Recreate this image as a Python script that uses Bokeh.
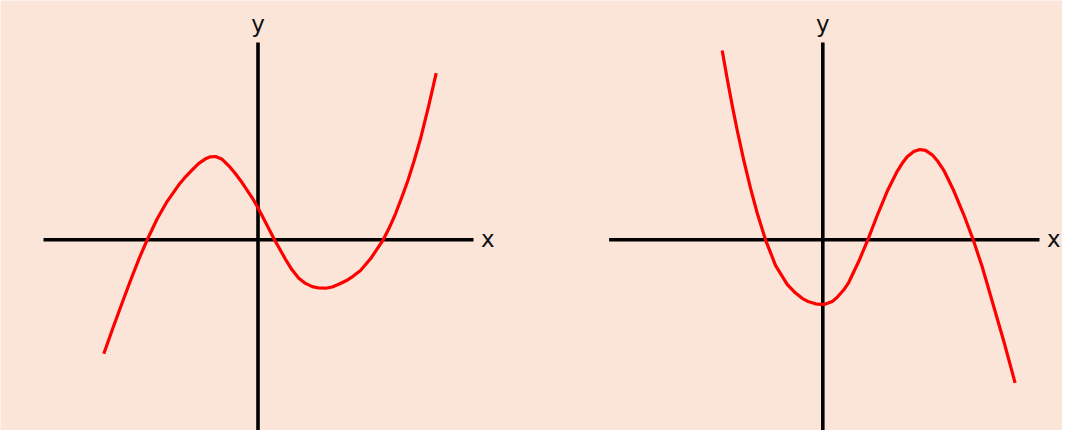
from bokeh.plotting import figure
from bokeh.models import Range1d, ColumnDataSource
from bokeh.transform import dodge
from bokeh.embed import file_html
from bokeh.resources import INLINE
from bokeh.core.properties import value

# ---- data (x to the right of each panel's y-axis, y above its x-axis) ----
left_x = [-154.2, -145.0, -136.0, -127.0, -119.0, -110.8, -100.8, -90.8, -79.2, -72.0,
          -65.8, -59.2, -52.5, -47.5, -42.5, -35.8, -29.2, -22.5, -15.8, -5.8,
          0.0, 8.0, 16.5, 27.5, 34.0, 40.8, 47.5, 54.2, 60.8, 67.5,
          74.2, 80.8, 88.0, 95.0, 102.5, 112.5, 119.2, 125.2, 130.8, 137.5,
          144.2, 150.0, 156.0, 162.5, 170.8, 178.2]
left_y = [-114.0, -88.0, -63.5, -39.5, -19.0, 0.0, 21.0, 38.5, 55.0, 63.5,
          70.0, 76.5, 81.0, 83.0, 83.3, 80.5, 74.0, 66.0, 57.0, 42.0,
          32.0, 16.5, 0.0, -19.5, -30.0, -38.5, -43.6, -46.8, -48.2, -48.4,
          -47.2, -44.5, -41.0, -36.5, -30.7, -19.0, -9.0, 0.0, 11.0, 26.0,
          43.5, 59.5, 78.5, 101.0, 134.5, 166.6]

right_x = [-100.6, -95.6, -90.6, -85.6, -79.0, -72.3, -65.6, -57.3, -47.3, -35.6,
           -27.5, -20.6, -14.0, -7.3, -2.3, 2.7, 9.4, 14.4, 21.0, 26.0,
           36.0, 45.0, 54.4, 64.4, 74.4, 79.4, 84.4, 91.0, 97.0, 102.7,
           109.4, 115.0, 121.0, 131.0, 141.0, 150.4, 159.4, 169.4, 181.0, 192.3]
right_y = [189.3, 161.0, 134.4, 109.6, 79.4, 51.6, 26.8, 0.0, -25.5, -44.5,
           -53.0, -58.5, -62.0, -64.0, -64.6, -64.3, -61.8, -57.4, -50.0, -42.5,
           -21.5, 0.0, 24.3, 48.5, 68.5, 76.5, 83.0, 88.3, 90.3, 89.5,
           85.0, 78.5, 69.5, 49.0, 25.0, 0.0, -27.0, -61.5, -101.5, -143.0]

left_axis_x_extent = [-214.5, 215.5]
right_axis_x_extent = [-213.7, 216.7]
axis_y_extent = [-196.7, 197.3]
axis_labels = ["x", "y"]

BG = "#FAE5D8"
RIGHT_OFFSET = 564.8  # horizontal distance between the two panels' origins

p = figure(width=1062, height=430, output_backend="svg", toolbar_location=None,
           x_range=Range1d(-257.5, 804.5), y_range=Range1d(-190.7, 239.3),
           min_border=0, min_border_left=0, min_border_right=0,
           min_border_top=0, min_border_bottom=0)
p.xaxis.visible = False
p.yaxis.visible = False
p.grid.visible = False
p.outline_line_color = None
p.background_fill_color = BG
p.border_fill_color = BG


def panel(cx, cy, ax_extent, offset):
    curve = ColumnDataSource(dict(x=cx, y=cy))
    hax = ColumnDataSource(dict(x=ax_extent, y=[0, 0]))
    vax = ColumnDataSource(dict(x=[0, 0], y=axis_y_extent))
    xlab = ColumnDataSource(dict(x=[ax_extent[1] + 7.5], y=[1.3], t=[axis_labels[0]]))
    ylab = ColumnDataSource(dict(x=[0], y=[216.3], t=[axis_labels[1]]))

    p.line(x=dodge("x", offset, range=p.x_range), y="y", source=hax,
           line_color="black", line_width=3.6)
    p.line(x=dodge("x", offset, range=p.x_range), y="y", source=vax,
           line_color="black", line_width=3.6)
    p.line(x=dodge("x", offset, range=p.x_range), y="y", source=curve,
           line_color="#FF0000", line_width=3.2, line_join="round")
    p.text(x=dodge("x", offset, range=p.x_range), y="y", text="t", source=xlab,
           text_font=value("DejaVu Sans"), text_font_size="23px",
           text_align="left", text_baseline="alphabetic", text_color="#111111")
    p.text(x=dodge("x", offset, range=p.x_range), y="y", text="t", source=ylab,
           text_font=value("DejaVu Sans"), text_font_size="23px",
           text_align="center", text_baseline="alphabetic", text_color="#111111")


panel(left_x, left_y, left_axis_x_extent, 0.0)
panel(right_x, right_y, right_axis_x_extent, RIGHT_OFFSET)

open("out.html", "w").write(file_html(p, INLINE))
